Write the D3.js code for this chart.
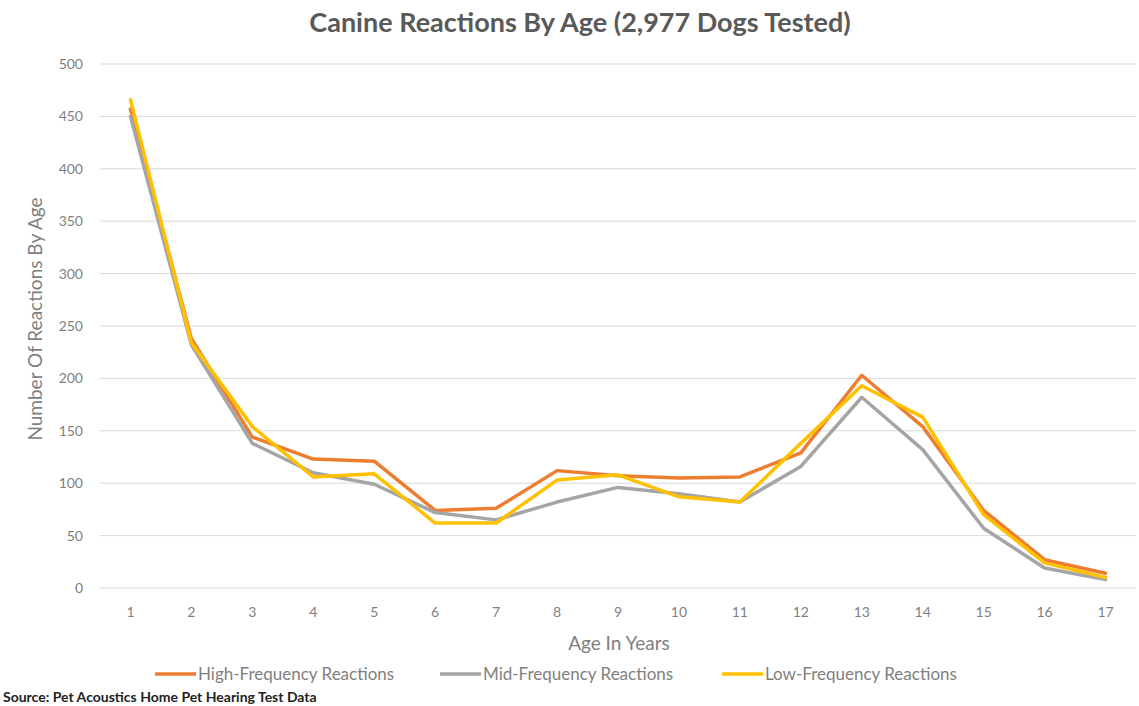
<!DOCTYPE html>
<html>
<head>
<meta charset="utf-8">
<script src="https://cdn.jsdelivr.net/npm/d3@7"></script>
<style>
  body { margin: 0; background: #fff; }
  svg text { font-family: Lato, "Open Sans", sans-serif; }
</style>
</head>
<body>
<svg id="chart" width="1139" height="706"></svg>
<script>
var ages = [1, 2, 3, 4, 5, 6, 7, 8, 9, 10, 11, 12, 13, 14, 15, 16, 17];
var highFreq = [457, 238, 144, 123, 121, 74, 76, 112, 107, 105, 106, 129, 203, 154, 74, 27, 14];
var midFreq  = [450, 232, 138, 110, 99, 72, 65, 82, 96, 90, 82, 116, 182, 132, 57, 19, 8];
var lowFreq  = [466, 234, 154, 106, 109, 62, 62, 103, 108, 87, 82, 138, 193, 163, 70, 24, 10];
var seriesNames = ["High-Frequency Reactions", "Mid-Frequency Reactions", "Low-Frequency Reactions"];
var yTicks = [0, 50, 100, 150, 200, 250, 300, 350, 400, 450, 500];

var svg = d3.select("#chart");
var colors = ["#ED7D31", "#A5A5A5", "#FFC000"];
var series = [highFreq, midFreq, lowFreq];

var x = d3.scalePoint()
    .domain(ages)
    .range([100, 1136])
    .padding(0.5);

var y = d3.scaleLinear()
    .domain([0, 500])
    .range([588, 64]);

// gridlines
svg.append("g")
    .selectAll("line")
    .data(yTicks)
    .enter().append("line")
    .attr("x1", 100)
    .attr("x2", 1136)
    .attr("y1", function(d) { return y(d); })
    .attr("y2", function(d) { return y(d); })
    .attr("stroke", "#d9d9d9")
    .attr("stroke-width", 1);

// y tick labels
svg.append("g")
    .selectAll("text")
    .data(yTicks)
    .enter().append("text")
    .attr("x", 83)
    .attr("y", function(d) { return y(d) + 5; })
    .attr("text-anchor", "end")
    .attr("fill", "#7f7f7f")
    .style("font-size", "14px")
    .text(function(d) { return d; });

// x tick labels
svg.append("g")
    .selectAll("text")
    .data(ages)
    .enter().append("text")
    .attr("x", function(d) { return x(d); })
    .attr("y", 617)
    .attr("text-anchor", "middle")
    .attr("fill", "#7f7f7f")
    .style("font-size", "14px")
    .text(function(d) { return d; });

var line = d3.line()
    .x(function(d, i) { return x(ages[i]); })
    .y(function(d) { return y(d); });

svg.append("g")
    .selectAll("path")
    .data(series)
    .enter().append("path")
    .attr("d", line)
    .attr("fill", "none")
    .attr("stroke", function(d, i) { return colors[i]; })
    .attr("stroke-width", 3.5)
    .attr("stroke-linejoin", "round")
    .attr("stroke-linecap", "round");

// title
svg.append("text")
    .attr("x", 580)
    .attr("y", 32)
    .attr("text-anchor", "middle")
    .attr("fill", "#595959")
    .style("font-size", "27px")
    .style("font-weight", "bold")
    .text("Canine Reactions By Age (2,977 Dogs Tested)");

// axis titles
svg.append("text")
    .attr("transform", "translate(42," + 319 + ") rotate(-90)")
    .attr("text-anchor", "middle")
    .attr("fill", "#7f7f7f")
    .style("font-size", "19px")
    .text("Number Of Reactions By Age");

svg.append("text")
    .attr("x", 619)
    .attr("y", 650)
    .attr("text-anchor", "middle")
    .attr("fill", "#7f7f7f")
    .style("font-size", "19px")
    .text("Age In Years");

// legend
var legendX = [155, 440, 722];
var legend = svg.append("g")
    .selectAll("g")
    .data(seriesNames)
    .enter().append("g")
    .attr("transform", function(d, i) { return "translate(" + legendX[i] + ",674)"; });

legend.append("line")
    .attr("x1", 0)
    .attr("x2", 41)
    .attr("stroke", function(d, i) { return colors[i]; })
    .attr("stroke-width", 3.5);

legend.append("text")
    .attr("x", 43)
    .attr("y", 6)
    .attr("fill", "#7f7f7f")
    .style("font-size", "17px")
    .text(function(d) { return d; });

// source
svg.append("text")
    .attr("x", 3)
    .attr("y", 702)
    .attr("fill", "#222")
    .style("font-size", "14px")
    .style("font-weight", "bold")
    .text("Source: Pet Acoustics Home Pet Hearing Test Data");
</script>
</body>
</html>
